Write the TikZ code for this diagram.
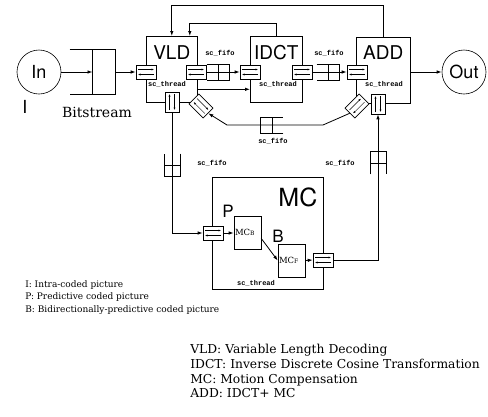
\documentclass[tikz,border=0pt]{standalone}
\usepackage{fontspec}
\setmainfont{DejaVu Serif}
\setmonofont{Liberation Mono}
\newfontfamily\helv{TeX Gyre Heros}
\usetikzlibrary{arrows.meta,positioning}

% port: small box with two opposed arrows
\newcommand{\port}[4][]{%
  \node[portbox, rotate=#4, #1] (#2) at (#3) {};
  \begin{scope}[shift={(#3)}, rotate=#4]
    \draw[tip] (-8,-2.5) -- (8,-2.5);
    \draw[tip] (8,2.5) -- (-8,2.5);
  \end{scope}}
% fifo: open on the input side, one divider
\newcommand{\fifo}[4][]{%
  \node[fifobox, rotate=#4, #1] (#2) at (#3) {};
  \draw (#2.north west) -- (#2.north east) -- (#2.south east) -- (#2.south west)
        (#2.north) -- (#2.south);}

\begin{document}
\begin{tikzpicture}[x=1pt, y=-1pt, line width=0.6pt,
  blk/.style={draw, rectangle, inner sep=0pt, anchor=north west},
  ttl/.style={font=\helv\fontsize{19}{19}\selectfont, inner sep=0pt},
  lbl/.style={font=\helv\fontsize{17}{17}\selectfont, inner sep=0pt},
  thr/.style={font=\ttfamily\bfseries\fontsize{7}{7}\selectfont, inner sep=0pt},
  term/.style={draw, circle, minimum size=44pt, inner sep=0pt,
    font=\helv\fontsize{18}{18}\selectfont},
  sub/.style={draw, rectangle, inner sep=1pt, text width=25pt,
    minimum height=33pt, align=left, font=\fontsize{8.5}{8.5}\selectfont},
  portbox/.style={draw, fill=white, rectangle, minimum width=20pt,
    minimum height=14pt, inner sep=0pt},
  fifobox/.style={rectangle, minimum width=22pt, minimum height=15pt, inner sep=0pt},
  tip/.style={line width=0.4pt, -{Latex[length=2.5pt,width=2pt]}},
  arrow/.style={line width=0.8pt, -{Latex[length=5pt,width=3.5pt]}},
  legend/.style={anchor=north west, align=left, inner sep=0pt},
]
  \useasboundingbox (0,0) rectangle (488,416);

  % terminals and input buffer
  \node[term] (in)  at (39,72)  {In};
  \node[term] (out) at (464,72) {Out};
  \fifo[minimum width=45pt, minimum height=44pt]{bs}{92.5,72}{0}
  \node[lbl, font=\helv\fontsize{18}{18}\selectfont] (ilbl) at (25,107) {I};
  \node[font=\fontsize{14}{14}\selectfont, inner sep=0pt] (bslbl) at (97,112) {Bitstream};

  % processes
  \node[blk, minimum width=51pt, minimum height=66pt] (vld)  at (146,36) {};
  \node[blk, minimum width=52pt, minimum height=66pt] (idct) at (250,36) {};
  \node[blk, minimum width=54pt, minimum height=66pt] (add)  at (356,37) {};
  \node[ttl, below=9pt of vld.north]  (vldttl)  {VLD};
  \node[ttl, below=9pt of idct.north] (idctttl) {IDCT};
  \node[ttl, below=8pt of add.north]  (addttl)  {ADD};
  \node[thr] (vldthr)  at (167,84) {sc\_thread};
  \node[thr] (idctthr) at (278,84) {sc\_thread};
  \node[thr] (addthr)  at (384,84) {sc\_thread};

  % motion compensation
  \node[blk, minimum width=111pt, minimum height=112pt] (mc) at (212,177) {};
  \node[font=\helv\fontsize{25}{25}\selectfont, inner sep=0pt,
    below left=11pt and 6pt of mc.north east] (mcttl) {MC};
  \node[sub] (mcb) at (247.5,232.5) {MC{\fontsize{6}{6}\selectfont B}};
  \node[sub] (mcf) at (291.5,260.5) {MC{\fontsize{6}{6}\selectfont F}};
  \node[lbl] (plbl) at (228,211) {P};
  \node[lbl] (blbl) at (278,236) {B};
  \node[thr] (mcthr) at (256,283) {sc\_thread};

  % fifos
  \fifo{f1}{218,72}{0}
  \fifo{f2}{328,72}{0}
  \fifo{f3}{272,125}{180}
  \fifo{f4}{172,165}{-90}
  \fifo{f5}{378,163}{90}
  \node[thr] (f1lbl) at (220,53)  {sc\_fifo};
  \node[thr] (f2lbl) at (329,53)  {sc\_fifo};
  \node[thr] (f3lbl) at (273,141) {sc\_fifo};
  \node[thr] (f4lbl) at (212,163) {sc\_fifo};
  \node[thr] (f5lbl) at (340,163) {sc\_fifo};

  % connectors
  \coordinate (bendr) at (323,125);
  \coordinate (bendl) at (227,125);
  \draw[arrow] (in) -- (bs.center);
  \draw[arrow] (add.east |- out) -- (out.west);
  \draw[arrow] (add.north) -- ++(0,-32) -| (vld.north);
  \draw[arrow] (idct.north) -- ++(0,-13) -| ([xshift=18pt]vld.north);
  \draw[arrow] ([yshift=-20pt]vld.east) -- ([yshift=-20pt]idct.west);

  % ports
  \port{vldin}{146,72}{0}
  \port{vldout}{196,72}{0}
  \port{idctin}{250,72}{0}
  \port{idctout}{302,72}{0}
  \port{addin}{357,72}{0}
  \port{vlds}{172,102}{-90}
  \port{vldd}{201,106}{-45}
  \port{addd}{357,106}{45}
  \port{adds}{378,104}{-90}
  \port{mcin}{213,233}{0}
  \port{mcout}{323,260}{0}

  \draw[arrow] (bs.east) -- (vldin.west);
  \draw[arrow] (vldout.east) -- (idctin.west);
  \draw[arrow] (idctout.east) -- (addin.west);
  \draw[arrow] (vlds.east) |- (mcin.west);
  \draw[arrow] (mcin.east) -- (mcin.east -| mcb.west);
  \draw[arrow] ([yshift=-6pt]mcb.east) -- (mcf.west);
  \draw[arrow] (mcf.east) -- (mcout.west);
  \draw[arrow] (mcout.east) -| (adds.east);
  \draw[arrow] (addd.west) -- (bendr) -- (bendl) -- (vldd.east);

  % legends
  \node[legend, font=\fontsize{9}{12.5}\selectfont] (leg1) at (25,280)
    {I: Intra-coded picture\\P: Predictive coded picture\\B: Bidirectionally-predictive coded picture};
  \node[legend, font=\fontsize{12.3}{14.7}\selectfont] (leg2) at (190,344)
    {VLD: Variable Length Decoding\\IDCT: Inverse Discrete Cosine Transformation\\MC: Motion Compensation\\ADD: IDCT+ MC};
\end{tikzpicture}
\end{document}
